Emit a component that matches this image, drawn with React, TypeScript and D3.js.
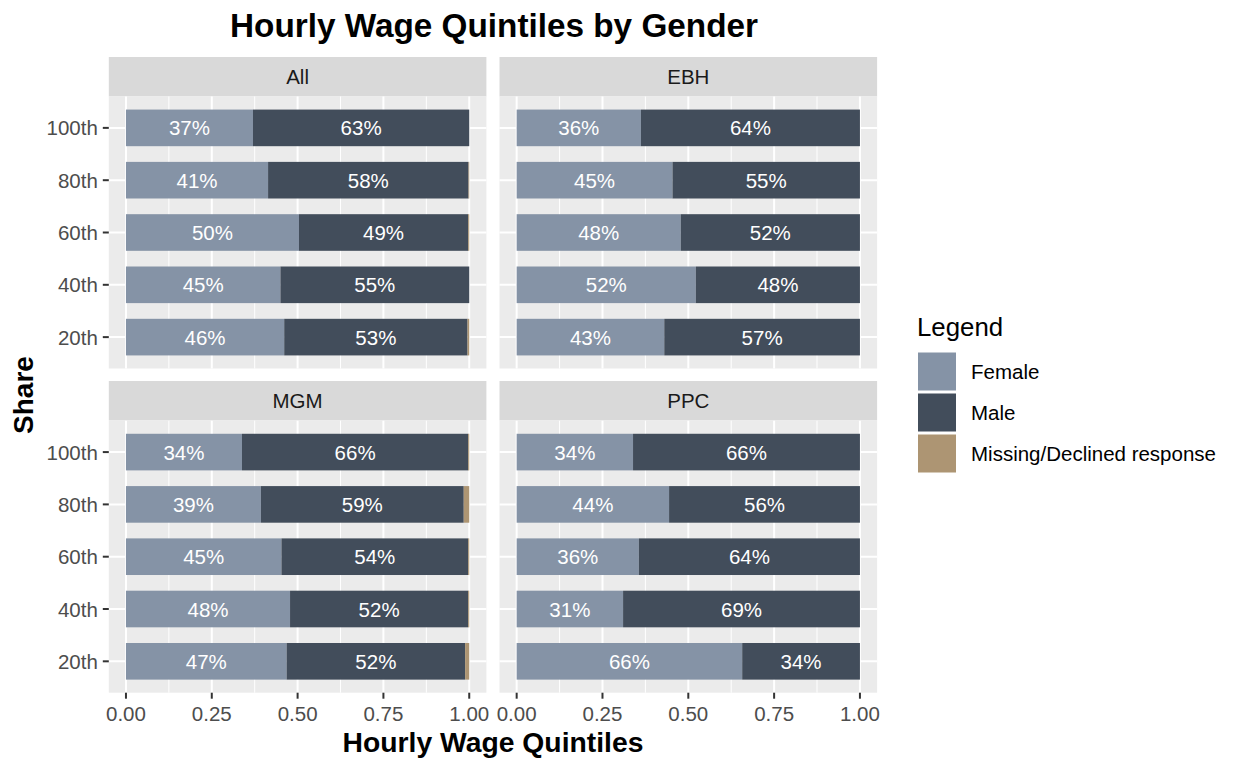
import React from "react";
import * as d3 from "d3";

const quintiles = ["100th", "80th", "60th", "40th", "20th"];
const facets = ["All", "EBH", "MGM", "PPC"];
const seriesNames = ["Female", "Male", "Missing/Declined response"];
const seriesColors = ["#8593A6", "#424D5B", "#AD9573"];
const xTicks = [0, 0.25, 0.5, 0.75, 1];
const xMinor = [0.125, 0.375, 0.625, 0.875];

// rows follow quintiles order, one inner array per facet
const femaleShare = [
  [0.37, 0.414, 0.504, 0.45, 0.461],
  [0.362, 0.454, 0.478, 0.522, 0.43],
  [0.338, 0.393, 0.453, 0.478, 0.468],
  [0.339, 0.444, 0.356, 0.31, 0.657],
];
const maleShare = [
  [0.63, 0.584, 0.493, 0.55, 0.534],
  [0.638, 0.546, 0.522, 0.478, 0.57],
  [0.659, 0.591, 0.544, 0.519, 0.52],
  [0.661, 0.556, 0.644, 0.69, 0.343],
];
const missingShare = [
  [0, 0.002, 0.003, 0, 0.005],
  [0, 0, 0, 0, 0],
  [0.003, 0.016, 0.003, 0.003, 0.012],
  [0, 0, 0, 0, 0],
];

const FONT = "'Liberation Sans', Arial, Helvetica, sans-serif";
const SMALL = 20.5;

export default function App() {
  const W = 1233;
  const H = 759;
  const colX = [108.8, 499.5];
  const panelW = 377.6;
  const stripTop = [57, 381];
  const stripH = 39.5;
  const panelTop = [96.5, 420.7];
  const panelH = 272;

  const panels = facets.map((f, i) => {
    const col = i % 2;
    const row = Math.floor(i / 2);
    const x0 = colX[col];
    const y0 = panelTop[row];
    const x = d3.scaleLinear().domain([-0.05, 1.05]).range([x0, x0 + panelW]);
    const y = d3.scalePoint<string>().domain(quintiles).range([y0, y0 + panelH]).padding(0.6);
    const bw = y.step() * 0.7;
    const rows = quintiles.map((q, k) => ({
      q,
      vals: [femaleShare[i][k], maleShare[i][k], missingShare[i][k]],
    }));
    const stack = d3.stack<any>().keys(["0", "1", "2"]).value((d, key) => d.vals[+key]);
    const stacked = stack(rows);
    return { f, col, row, x0, y0, x, y, bw, rows, stacked };
  });

  return (
    <div style={{ position: "absolute", left: 0, top: 0 }}>
      <svg width={W} height={H} style={{ display: "block", background: "#fff" }} fontFamily={FONT}>
        <text x={494} y={37} textAnchor="middle" fontSize={33.3} fontWeight="bold" fill="#000">
          Hourly Wage Quintiles by Gender
        </text>
        {panels.map((p) => (
          <g key={p.f}>
            <rect x={p.x0} y={stripTop[p.row]} width={panelW} height={stripH} fill="#D9D9D9" />
            <text
              x={p.x0 + panelW / 2}
              y={stripTop[p.row] + stripH / 2 + 7.5}
              textAnchor="middle"
              fontSize={SMALL}
              fill="#1A1A1A"
            >
              {p.f}
            </text>
            <rect x={p.x0} y={p.y0} width={panelW} height={panelH} fill="#EBEBEB" />
            {xMinor.map((t) => (
              <line key={"m" + t} x1={p.x(t)} x2={p.x(t)} y1={p.y0} y2={p.y0 + panelH} stroke="#fff" strokeWidth={1} />
            ))}
            {xTicks.map((t) => (
              <line key={"M" + t} x1={p.x(t)} x2={p.x(t)} y1={p.y0} y2={p.y0 + panelH} stroke="#fff" strokeWidth={2} />
            ))}
            {quintiles.map((q) => (
              <line key={q} x1={p.x0} x2={p.x0 + panelW} y1={p.y(q)!} y2={p.y(q)!} stroke="#fff" strokeWidth={2} />
            ))}
            {p.stacked.map((layer, si) =>
              layer.map((seg, k) => {
                const w = p.x(seg[1]) - p.x(seg[0]);
                if (w <= 0) return null;
                return (
                  <rect
                    key={si + "-" + k}
                    x={p.x(seg[0])}
                    y={p.y(quintiles[k])! - p.bw / 2}
                    width={w}
                    height={p.bw}
                    fill={seriesColors[si]}
                  />
                );
              })
            )}
            {p.stacked.slice(0, 2).map((layer, si) =>
              layer.map((seg, k) => (
                <text
                  key={"t" + si + "-" + k}
                  x={(p.x(seg[0]) + p.x(seg[1])) / 2}
                  y={p.y(quintiles[k])! + 7.5}
                  textAnchor="middle"
                  fontSize={SMALL}
                  fill="#fff"
                >
                  {Math.round((seg[1] - seg[0]) * 100) + "%"}
                </text>
              ))
            )}
            {p.col === 0 &&
              quintiles.map((q) => (
                <g key={"yt" + q}>
                  <line x1={p.x0 - 6} x2={p.x0} y1={p.y(q)!} y2={p.y(q)!} stroke="#333" strokeWidth={2} />
                  <text x={p.x0 - 11} y={p.y(q)! + 7.5} textAnchor="end" fontSize={SMALL} fill="#4D4D4D">
                    {q}
                  </text>
                </g>
              ))}
            {p.row === 1 &&
              xTicks.map((t) => (
                <g key={"xt" + t}>
                  <line x1={p.x(t)} x2={p.x(t)} y1={p.y0 + panelH} y2={p.y0 + panelH + 6} stroke="#333" strokeWidth={2} />
                  <text x={p.x(t)} y={721} textAnchor="middle" fontSize={SMALL} fill="#4D4D4D">
                    {d3.format(".2f")(t)}
                  </text>
                </g>
              ))}
          </g>
        ))}
        <text x={493} y={752} textAnchor="middle" fontSize={28.3} fontWeight="bold" fill="#000">
          Hourly Wage Quintiles
        </text>
        <text
          transform={`translate(33,395) rotate(-90)`}
          textAnchor="middle"
          fontSize={28}
          fontWeight="bold"
          fill="#000"
        >
          Share
        </text>
        <text x={917} y={336} fontSize={25.8} fill="#000">
          Legend
        </text>
        {seriesNames.map((s, i) => (
          <g key={s}>
            <rect x={918} y={352.5 + i * 41} width={38} height={38} fill={seriesColors[i]} />
            <text x={971} y={379} fontSize={SMALL} fill="#000" dy={i * 41}>
              {s}
            </text>
          </g>
        ))}
      </svg>
    </div>
  );
}
